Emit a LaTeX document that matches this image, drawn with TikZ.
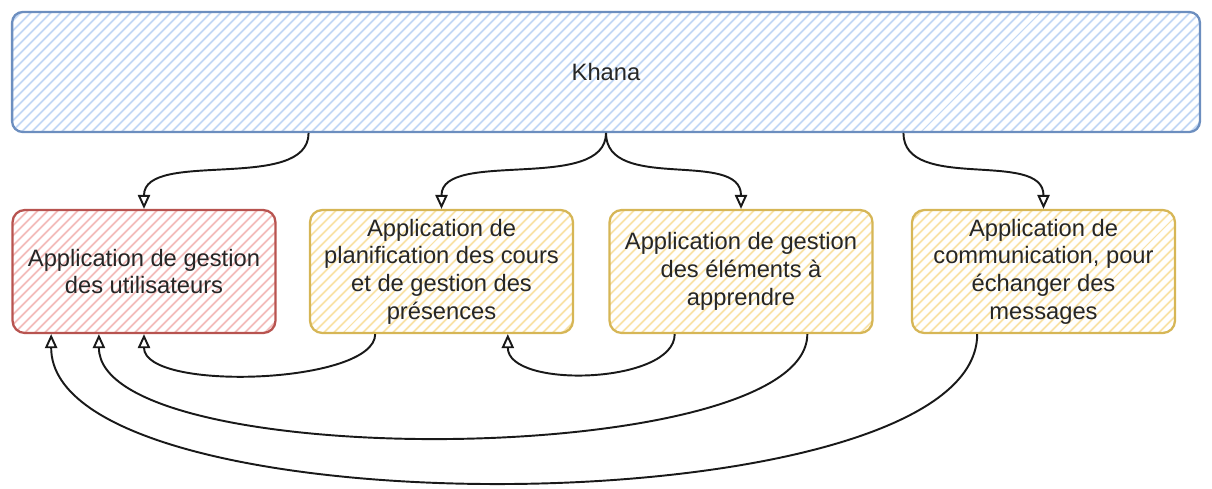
\documentclass[tikz,border=0pt]{standalone}
\usepackage{fontspec}
\setmainfont{Liberation Sans}
\usetikzlibrary{arrows.meta,patterns.meta,calc}
\definecolor{skyline}{HTML}{6C8EBF}
\definecolor{skyfill}{HTML}{C2D7F5}
\definecolor{rosline}{HTML}{B85450}
\definecolor{rosfill}{HTML}{F3BCBA}
\definecolor{sandline}{HTML}{D6B656}
\definecolor{sandfill}{HTML}{F9E2A6}

\tikzset{
  appbox/.style={draw=sandline,line width=1.3pt,rounded corners=7pt,
    pattern={Lines[angle=45,distance=4pt,line width=1.1pt]},pattern color=sandfill,
    minimum width=5.26cm,minimum height=2.46cm,align=center,
    font=\fontsize{13.5}{15.8}\selectfont,text=black!85},
  userbox/.style={appbox,draw=rosline,pattern color=rosfill},
  topbox/.style={appbox,draw=skyline,pattern color=skyfill,rounded corners=6pt,
    minimum width=23.76cm,minimum height=2.4cm},
  link/.style={draw=black!90,line width=1.1pt,-{Triangle[open,length=8pt,width=7pt]}},
}

\begin{document}
\begin{tikzpicture}[x=0.02cm,y=-0.02cm]
  \useasboundingbox (0,0) rectangle (1212,488);
  % platform
  \node[topbox] (khana) at (606,72) {Khana};
  % applications
  \node[userbox] (user) at (144,271.5) {Application de gestion\\des utilisateurs};
  \node[appbox] (plan) at (441.5,271.5) {Application de\\planification des cours\\et de gestion des\\présences};
  \node[appbox] (elem) at (741,271.5) {Application de gestion\\des éléments à\\apprendre};
  \node[appbox] (comm) at (1043.5,271.5) {Application de\\communication, pour\\échanger des\\messages};

  % from the platform down
  \draw[link] ($(khana.south west)!.25!(khana.south east)$) .. controls +(0,60) and +(0,-60) .. (user.north);
  \draw[link] (khana.south) .. controls +(0,60) and +(0,-60) .. (plan.north);
  \draw[link] (khana.south) .. controls +(0,60) and +(0,-60) .. (elem.north);
  \draw[link] ($(khana.south west)!.75!(khana.south east)$) .. controls +(0,60) and +(0,-60) .. (comm.north);

  % between the applications
  \draw[link] ($(plan.south west)!.25!(plan.south east)$) .. controls +(0,50) and +(0,58) .. (user.south);
  \draw[link] ($(elem.south west)!.25!(elem.south east)$) .. controls +(0,50) and +(0,55) .. ($(plan.south west)!.75!(plan.south east)$);
  \draw[link] ($(elem.south west)!.75!(elem.south east)$) .. controls +(0,135) and +(0,140) .. ($(user.south west)!.33!(user.south east)$);
  \draw[link] ($(comm.south west)!.25!(comm.south east)$) .. controls +(0,195) and +(0,200) .. ($(user.south west)!.15!(user.south east)$);
\end{tikzpicture}
\end{document}
